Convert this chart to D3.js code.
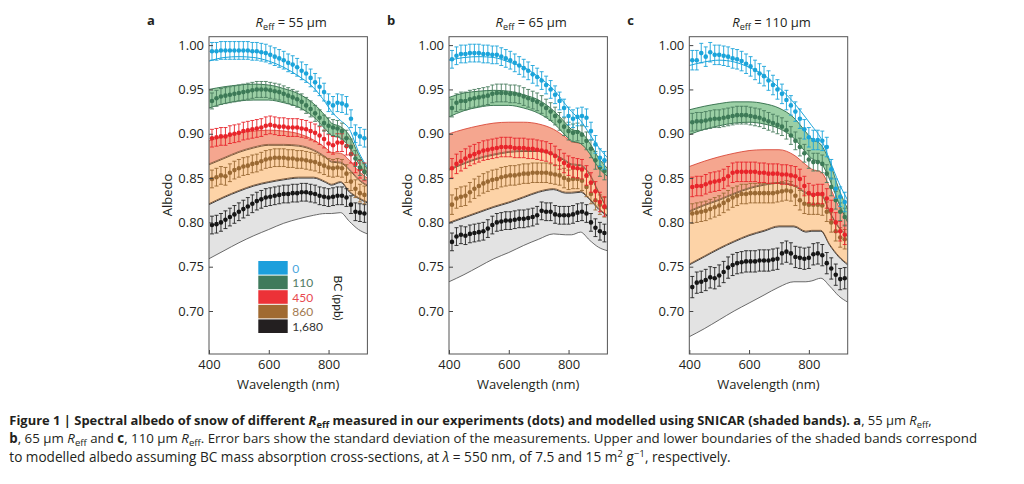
<!DOCTYPE html>
<html><head><meta charset="utf-8">
<script src="https://cdn.jsdelivr.net/npm/d3@7"></script>
<style>
body{margin:0;background:#fff}
svg{display:block}
text{font-family:"Open Sans","Noto Sans",sans-serif;fill:#231f20}
</style>
</head><body>
<svg id="chart" width="1024" height="484"></svg>
<script>
// ---------- data ----------
const wavelengths = [410,425,440,455,470,485,500,515,530,545,560,575,590,605,620,635,650,665,680,695,710,725,740,755,770,785,800,815,830,845,860,875,890,905,920];
const modelWavelengths = [400,450,500,550,600,650,700,750,790,810,840,870,900,930];
const bcLevels = ["0","110","450","860","1,680"];
const panelLetters = ["a","b","c"];
const reffValues = ["55","65","110"];
const yTicks = [0.70,0.75,0.80,0.85,0.90,0.95,1.00];
const xTicks = [400,600,800];

// measured albedo, panel a (Reff 55 um)
const a0    = [0.993,0.993,0.994,0.994,0.994,0.994,0.994,0.994,0.994,0.993,0.993,0.992,0.991,0.989,0.987,0.985,0.983,0.980,0.978,0.975,0.971,0.968,0.963,0.958,0.953,0.947,0.935,0.932,0.935,0.934,0.932,0.917,0.900,0.897,0.895];
const a110  = [0.937,0.940,0.942,0.943,0.944,0.945,0.946,0.947,0.948,0.949,0.950,0.950,0.950,0.949,0.948,0.947,0.945,0.943,0.941,0.939,0.936,0.932,0.928,0.923,0.918,0.912,0.909,0.907,0.906,0.903,0.895,0.885,0.872,0.862,0.857];
const a450  = [0.895,0.896,0.897,0.897,0.899,0.900,0.901,0.903,0.904,0.905,0.906,0.907,0.909,0.910,0.909,0.908,0.908,0.907,0.907,0.907,0.906,0.905,0.903,0.901,0.898,0.894,0.889,0.887,0.890,0.890,0.886,0.877,0.866,0.860,0.857];
const a860  = [0.849,0.851,0.853,0.852,0.856,0.859,0.861,0.863,0.864,0.866,0.867,0.869,0.871,0.872,0.873,0.873,0.873,0.872,0.872,0.871,0.871,0.870,0.869,0.868,0.866,0.864,0.862,0.861,0.862,0.861,0.855,0.846,0.838,0.833,0.831];
const a1680 = [0.797,0.798,0.800,0.803,0.806,0.809,0.812,0.815,0.818,0.821,0.824,0.826,0.828,0.829,0.830,0.831,0.832,0.832,0.833,0.833,0.834,0.834,0.833,0.832,0.830,0.829,0.828,0.829,0.830,0.830,0.828,0.820,0.812,0.811,0.810];
// measured albedo, panel b (Reff 65 um)
const b0    = [0.984,0.988,0.990,0.990,0.991,0.991,0.991,0.990,0.990,0.989,0.989,0.987,0.985,0.983,0.980,0.977,0.974,0.971,0.967,0.964,0.960,0.955,0.950,0.944,0.937,0.929,0.920,0.917,0.919,0.920,0.918,0.903,0.888,0.873,0.870];
const b110  = [0.929,0.935,0.937,0.937,0.939,0.940,0.941,0.942,0.943,0.945,0.946,0.946,0.946,0.945,0.945,0.944,0.942,0.940,0.938,0.936,0.933,0.929,0.925,0.920,0.914,0.908,0.903,0.901,0.902,0.899,0.892,0.883,0.870,0.862,0.858];
const b450  = [0.861,0.866,0.869,0.872,0.875,0.877,0.879,0.881,0.882,0.883,0.884,0.885,0.885,0.885,0.884,0.884,0.884,0.883,0.883,0.882,0.881,0.880,0.878,0.875,0.871,0.867,0.864,0.862,0.861,0.860,0.853,0.845,0.835,0.823,0.818];
const b860  = [0.820,0.827,0.829,0.830,0.834,0.838,0.841,0.844,0.846,0.848,0.849,0.851,0.852,0.853,0.853,0.854,0.855,0.855,0.856,0.856,0.856,0.856,0.855,0.854,0.853,0.850,0.848,0.849,0.849,0.847,0.840,0.832,0.825,0.820,0.817];
const b1680 = [0.778,0.784,0.786,0.785,0.787,0.788,0.789,0.790,0.793,0.797,0.800,0.801,0.802,0.802,0.803,0.804,0.804,0.805,0.806,0.808,0.813,0.812,0.812,0.809,0.808,0.808,0.808,0.809,0.811,0.812,0.810,0.800,0.794,0.790,0.788];
// measured albedo, panel c (Reff 110 um)
const c0    = [0.983,0.983,0.991,0.987,0.992,0.989,0.989,0.988,0.987,0.985,0.984,0.982,0.979,0.976,0.972,0.968,0.965,0.960,0.955,0.950,0.945,0.938,0.932,0.925,0.917,0.905,0.896,0.893,0.893,0.892,0.885,0.860,0.838,0.829,0.823];
const c110  = [0.913,0.914,0.914,0.915,0.916,0.917,0.917,0.918,0.919,0.920,0.921,0.921,0.921,0.920,0.919,0.918,0.916,0.914,0.912,0.910,0.908,0.904,0.898,0.892,0.885,0.878,0.871,0.868,0.868,0.866,0.855,0.840,0.825,0.812,0.806];
const c450  = [0.840,0.841,0.841,0.843,0.845,0.846,0.847,0.849,0.852,0.856,0.857,0.857,0.857,0.857,0.857,0.856,0.856,0.855,0.855,0.855,0.854,0.854,0.853,0.852,0.849,0.841,0.833,0.831,0.832,0.832,0.827,0.814,0.800,0.790,0.786];
const c860  = [0.810,0.811,0.812,0.813,0.815,0.817,0.819,0.822,0.825,0.828,0.830,0.832,0.832,0.833,0.833,0.833,0.833,0.833,0.833,0.834,0.835,0.836,0.835,0.830,0.825,0.821,0.820,0.820,0.820,0.819,0.812,0.800,0.790,0.783,0.781];
const c1680 = [0.727,0.732,0.733,0.735,0.738,0.737,0.740,0.744,0.749,0.752,0.754,0.755,0.756,0.756,0.756,0.757,0.757,0.757,0.758,0.759,0.765,0.767,0.765,0.761,0.760,0.759,0.760,0.764,0.765,0.763,0.754,0.748,0.741,0.736,0.737];

// error bar half-lengths (standard deviation) per BC level
const errA = [0.010,0.009,0.010,0.010,0.010];
const errB = [0.010,0.010,0.011,0.011,0.010];
const errC = [0.011,0.010,0.011,0.011,0.012];

// SNICAR model (upper / lower boundaries), panel a
const mA0      = [0.982,0.986,0.987,0.986,0.982,0.975,0.965,0.952,0.935,0.925,0.915,0.905,0.880,0.862];
const mA110hi  = [0.950,0.953,0.955,0.956,0.955,0.951,0.945,0.934,0.920,0.912,0.908,0.898,0.877,0.860];
const mA110lo  = [0.929,0.934,0.937,0.938,0.938,0.935,0.930,0.919,0.905,0.898,0.895,0.885,0.867,0.852];
const mA450hi  = [0.892,0.897,0.901,0.903,0.904,0.903,0.900,0.893,0.884,0.879,0.878,0.870,0.858,0.850];
const mA450lo  = [0.866,0.873,0.880,0.885,0.888,0.888,0.887,0.882,0.874,0.869,0.868,0.860,0.849,0.842];
const mA860hi  = [0.865,0.872,0.879,0.884,0.887,0.887,0.886,0.881,0.873,0.868,0.867,0.859,0.848,0.841];
const mA860lo  = [0.821,0.829,0.836,0.842,0.846,0.849,0.851,0.851,0.846,0.843,0.846,0.835,0.828,0.823];
const mA1680hi = [0.820,0.828,0.835,0.841,0.845,0.848,0.850,0.850,0.845,0.842,0.845,0.834,0.827,0.822];
const mA1680lo = [0.759,0.768,0.777,0.785,0.792,0.799,0.804,0.808,0.810,0.810,0.811,0.801,0.792,0.787];
// panel b
const mB0      = [0.983,0.986,0.987,0.986,0.981,0.975,0.964,0.950,0.933,0.925,0.915,0.900,0.885,0.873];
const mB110hi  = [0.941,0.946,0.948,0.949,0.948,0.944,0.938,0.926,0.912,0.905,0.902,0.890,0.873,0.861];
const mB110lo  = [0.919,0.926,0.930,0.932,0.932,0.929,0.923,0.912,0.898,0.892,0.889,0.878,0.862,0.852];
const mB450hi  = [0.900,0.905,0.909,0.912,0.913,0.913,0.911,0.905,0.896,0.891,0.889,0.880,0.866,0.852];
const mB450lo  = [0.860,0.867,0.873,0.877,0.880,0.881,0.881,0.877,0.870,0.866,0.865,0.855,0.835,0.815];
const mB860hi  = [0.859,0.866,0.872,0.876,0.879,0.880,0.880,0.876,0.869,0.865,0.864,0.854,0.834,0.814];
const mB860lo  = [0.800,0.806,0.812,0.818,0.823,0.829,0.835,0.838,0.834,0.834,0.835,0.827,0.816,0.808];
const mB1680hi = [0.799,0.805,0.811,0.817,0.822,0.828,0.834,0.837,0.833,0.833,0.834,0.826,0.815,0.807];
const mB1680lo = [0.733,0.741,0.750,0.759,0.766,0.774,0.781,0.787,0.786,0.786,0.789,0.780,0.772,0.768];
// panel c
const mC0      = [0.977,0.981,0.983,0.981,0.975,0.966,0.952,0.935,0.918,0.909,0.895,0.870,0.845,0.825];
const mC110hi  = [0.927,0.931,0.934,0.936,0.936,0.934,0.929,0.918,0.902,0.894,0.888,0.868,0.838,0.815];
const mC110lo  = [0.899,0.905,0.909,0.912,0.913,0.911,0.906,0.895,0.879,0.872,0.867,0.848,0.822,0.800];
const mC450hi  = [0.863,0.869,0.874,0.878,0.881,0.882,0.882,0.876,0.865,0.860,0.857,0.840,0.818,0.804];
const mC450lo  = [0.813,0.820,0.826,0.833,0.839,0.843,0.845,0.842,0.834,0.832,0.832,0.812,0.795,0.785];
const mC860hi  = [0.812,0.819,0.825,0.832,0.838,0.842,0.844,0.841,0.833,0.831,0.831,0.811,0.794,0.784];
const mC860lo  = [0.753,0.762,0.771,0.779,0.786,0.791,0.796,0.796,0.790,0.791,0.791,0.775,0.762,0.753];
const mC1680hi = [0.752,0.761,0.770,0.778,0.785,0.790,0.795,0.795,0.789,0.790,0.790,0.774,0.761,0.752];
const mC1680lo = [0.671,0.680,0.690,0.700,0.709,0.718,0.727,0.733,0.733,0.734,0.737,0.728,0.717,0.710];

// ---------- styles ----------
const dotColors   = ["#1ba4da","#3d7a57","#e8242a","#9a6933","#161616"];
const barColors   = ["#1ba4da","#4a7d5f","#e8242a","#9a6933","#222222"];
const bandFill    = [null,"#9bcfa5","#f5a68f","#fdd3a7","#e3e3e3"];
const bandLineHi  = ["#1ba4da","#2f6b47","#d94a3a","#6e4a2a","#2a2a2a"];
const bandLineLo  = [null,"#2f6b47","#8c5a3a","#6e4a2a","#5a5a5a"];
const legendFill  = ["#1c9fdc","#3f7a5b","#ec3237","#a06a31","#231f20"];
const legendText  = ["#4aa6dd","#4f7b63","#e84a4f","#a27a4f","#333333"];

const panels = [
  {left:209,   meas:[a0,a110,a450,a860,a1680], err:errA,
   model:[[mA0,mA0],[mA110hi,mA110lo],[mA450hi,mA450lo],[mA860hi,mA860lo],[mA1680hi,mA1680lo]], legend:true},
  {left:449,   meas:[b0,b110,b450,b860,b1680], err:errB,
   model:[[mB0,mB0],[mB110hi,mB110lo],[mB450hi,mB450lo],[mB860hi,mB860lo],[mB1680hi,mB1680lo]], legend:false},
  {left:689.3, meas:[c0,c110,c450,c860,c1680], err:errC,
   model:[[mC0,mC0],[mC110hi,mC110lo],[mC450hi,mC450lo],[mC860hi,mC860lo],[mC1680hi,mC1680lo]], legend:false}
];

const plotW = 158.4, plotTop = 36.7, plotBottom = 354;
const xDomain = [400, 930];
const yDomain = [0.6515, 1.0095];

const svg = d3.select("#chart");
const defs = svg.append("defs");

panels.forEach((p, pi) => {
  const x = d3.scaleLinear().domain(xDomain).range([p.left, p.left + plotW]);
  const y = d3.scaleLinear().domain(yDomain).range([plotBottom, plotTop]);

  defs.append("clipPath").attr("id", "clip" + pi)
    .append("rect").attr("x", p.left).attr("y", plotTop)
    .attr("width", plotW).attr("height", plotBottom - plotTop);

  const g = svg.append("g").attr("clip-path", `url(#clip${pi})`);

  const area = d3.area().x(d => x(d.w)).y0(d => y(d.lo)).y1(d => y(d.hi)).curve(d3.curveMonotoneX);
  const lineHi = d3.line().x(d => x(d.w)).y(d => y(d.hi)).curve(d3.curveMonotoneX);
  const lineLo = d3.line().x(d => x(d.w)).y(d => y(d.lo)).curve(d3.curveMonotoneX);

  // shaded model bands, lowest first
  for (let k = 4; k >= 1; k--) {
    const hi = p.model[k][0], lo = p.model[k][1];
    const pts = modelWavelengths.map((w, i) => ({w, hi: hi[i], lo: lo[i]}));
    g.append("path").datum(pts).attr("d", area).attr("fill", bandFill[k]);
    g.append("path").datum(pts).attr("d", lineLo).attr("fill", "none")
      .attr("stroke", bandLineLo[k]).attr("stroke-width", 0.9);
    g.append("path").datum(pts).attr("d", lineHi).attr("fill", "none")
      .attr("stroke", bandLineHi[k]).attr("stroke-width", 0.9);
  }
  // BC = 0 model line
  {
    const pts = modelWavelengths.map((w, i) => ({w, hi: p.model[0][0][i], lo: p.model[0][1][i]}));
    g.append("path").datum(pts).attr("d", lineHi).attr("fill", "none")
      .attr("stroke", bandLineHi[0]).attr("stroke-width", 1);
  }

  // measurements with error bars
  for (let k = 4; k >= 0; k--) {
    const vals = p.meas[k], e = p.err[k];
    const data = wavelengths.map((w, i) => ({w, v: vals[i]}));
    const sg = g.append("g");
    const eb = sg.selectAll("g.eb").data(data).join("g").attr("class", "eb")
      .attr("stroke", barColors[k]).attr("stroke-width", 0.9);
    eb.append("line").attr("x1", d => x(d.w)).attr("x2", d => x(d.w))
      .attr("y1", d => y(d.v - e)).attr("y2", d => y(d.v + e));
    eb.append("line").attr("x1", d => x(d.w) - 2).attr("x2", d => x(d.w) + 2)
      .attr("y1", d => y(d.v + e)).attr("y2", d => y(d.v + e));
    eb.append("line").attr("x1", d => x(d.w) - 2).attr("x2", d => x(d.w) + 2)
      .attr("y1", d => y(d.v - e)).attr("y2", d => y(d.v - e));
    sg.selectAll("circle").data(data).join("circle")
      .attr("cx", d => x(d.w)).attr("cy", d => y(d.v)).attr("r", 2.3)
      .attr("fill", dotColors[k]);
  }

  // axes (ticks pointing inward)
  const ya = svg.append("g").attr("transform", `translate(${p.left},0)`)
    .call(d3.axisLeft(y).tickValues(yTicks).tickSize(-4).tickPadding(5).tickFormat(d3.format(".2f")));
  const xa = svg.append("g").attr("transform", `translate(0,${plotBottom})`)
    .call(d3.axisBottom(x).tickValues(xTicks).tickSize(-4).tickPadding(6).tickFormat(d3.format("d")));
  [ya, xa].forEach(a => {
    a.select(".domain").remove();
    a.selectAll(".tick line").attr("stroke", "#444");
    a.selectAll(".tick text").attr("font-size", 13).attr("font-family", '"Open Sans","Noto Sans",sans-serif').attr("fill", "#231f20");
  });

  // frame
  svg.append("rect").attr("x", p.left).attr("y", plotTop).attr("width", plotW).attr("height", plotBottom - plotTop)
    .attr("fill", "none").attr("stroke", "#555").attr("stroke-width", 1);

  // panel letter
  svg.append("text").attr("x", p.left - 62).attr("y", 25).attr("font-size", 13).attr("font-weight", "bold")
    .text(panelLetters[pi]);

  // title
  const t = svg.append("text").attr("x", p.left + plotW / 2 + 3).attr("y", 27).attr("text-anchor", "middle").attr("font-size", 13);
  t.append("tspan").attr("font-style", "italic").text("R");
  t.append("tspan").attr("font-size", "0.7em").attr("dy", "0.35em").text("eff");
  t.append("tspan").attr("dy", "-0.245em").text(" = " + reffValues[pi] + " μm");

  // axis titles
  svg.append("text").attr("transform", `translate(${p.left - 37},195) rotate(-90)`)
    .attr("text-anchor", "middle").attr("font-size", 13).text("Albedo");
  svg.append("text").attr("x", p.left + plotW / 2).attr("y", 389)
    .attr("text-anchor", "middle").attr("font-size", 13).text("Wavelength (nm)");

  // legend
  if (p.legend) {
    const lx = p.left + 49.3, ly = 261, rh = 14.6;
    bcLevels.forEach((lab, i) => {
      svg.append("rect").attr("x", lx).attr("y", ly + i * rh).attr("width", 29.4).attr("height", rh - 1)
        .attr("fill", legendFill[i]);
      svg.append("text").attr("x", lx + 34).attr("y", ly + i * rh + rh / 2 + 4.3)
        .attr("font-size", 12).style("font-family", "Lato, 'Open Sans', sans-serif")
        .style("fill", legendText[i]).text(lab);
    });
    svg.append("text").attr("transform", `translate(${p.left + 125},298) rotate(90)`)
      .attr("text-anchor", "middle").attr("font-size", 12).style("font-family", "Lato, 'Open Sans', sans-serif")
      .text("BC (ppb)");
  }
});

// ---------- caption ----------
function captionLine(yPos, targetRight, parts) {
  const t = svg.append("text").attr("x", 9.3).attr("y", yPos).attr("font-size", 13);
  parts.forEach(pt => {
    const s = t.append("tspan").text(pt.t);
    if (pt.b) s.attr("font-weight", "bold");
    if (pt.i) s.attr("font-style", "italic");
    if (pt.sub) s.attr("font-size", "0.72em").attr("dy", "0.3em");
    if (pt.sup) s.attr("font-size", "0.72em").attr("dy", "-0.5em");
    if (pt.reset) s.attr("dy", pt.reset);
  });
  const w = t.node().getComputedTextLength();
  t.attr("font-size", 13 * (targetRight - 9.3) / w);
}
captionLine(425, 933, [
  {t:"Figure 1 | Spectral albedo of snow of different ", b:1},
  {t:"R", b:1, i:1},
  {t:"eff", b:1, sub:1},
  {t:" measured in our experiments (dots) and modelled using SNICAR (shaded bands). ", b:1, reset:"-0.216em"},
  {t:"a", b:1},
  {t:", 55 μm "},
  {t:"R", i:1},
  {t:"eff", sub:1},
  {t:",", reset:"-0.216em"}
]);
captionLine(443, 978, [
  {t:"b", b:1},
  {t:", 65 μm "},
  {t:"R", i:1},
  {t:"eff", sub:1},
  {t:" and ", reset:"-0.216em"},
  {t:"c", b:1},
  {t:", 110 μm "},
  {t:"R", i:1},
  {t:"eff", sub:1},
  {t:". Error bars show the standard deviation of the measurements. Upper and lower boundaries of the shaded bands correspond", reset:"-0.216em"}
]);
captionLine(462, 731, [
  {t:"to modelled albedo assuming BC mass absorption cross-sections, at "},
  {t:"λ", i:1},
  {t:" = 550 nm, of 7.5 and 15 m"},
  {t:"2", sup:1},
  {t:" g", reset:"0.36em"},
  {t:"−1", sup:1},
  {t:", respectively.", reset:"0.36em"}
]);
</script>
</body></html>
